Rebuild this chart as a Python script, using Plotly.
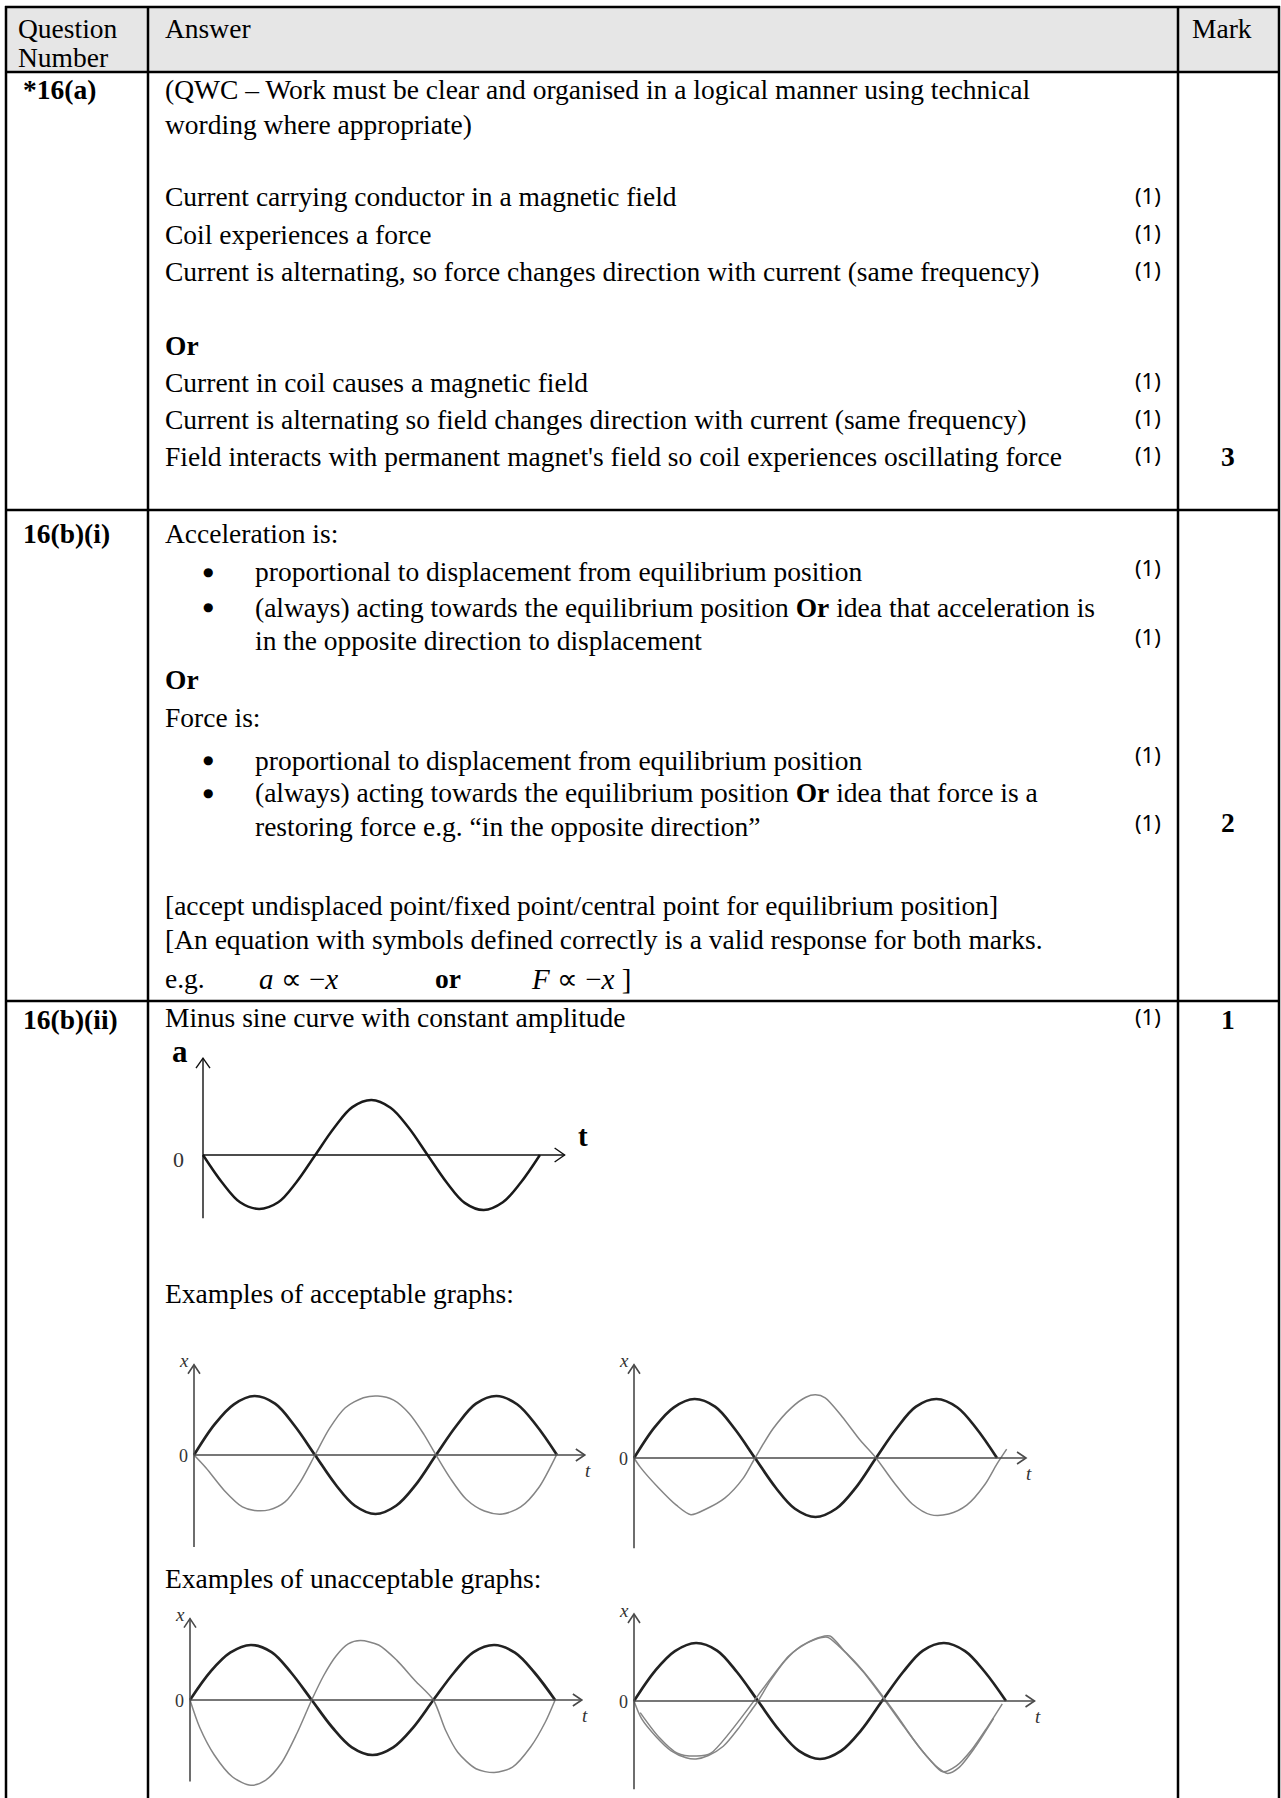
import plotly.graph_objects as go

W, H = 1281, 1798

# ---------------- text content ----------------
head_question = ["Question", "Number"]
head_answer = "Answer"
head_mark = "Mark"
question_ids = ["*16(a)", "16(b)(i)", "16(b)(ii)"]
total_marks = ["3", "2", "1"]

ans_a = [
    "(QWC – Work must be clear and organised in a logical manner using technical",
    "wording where appropriate)",
    "Current carrying conductor in a magnetic field",
    "Coil experiences a force",
    "Current is alternating, so force changes direction with current (same frequency)",
    "<b>Or</b>",
    "Current in coil causes a magnetic field",
    "Current is alternating so field changes direction with current (same frequency)",
    "Field interacts with permanent magnet's field so coil experiences oscillating force",
]
ans_a_marks = ["", "", "(1)", "(1)", "(1)", "", "(1)", "(1)", "(1)"]

ans_bi = [
    "Acceleration is:",
    "proportional to displacement from equilibrium position",
    "(always) acting towards the equilibrium position <b>Or</b> idea that acceleration is",
    "in the opposite direction to displacement",
    "<b>Or</b>",
    "Force is:",
    "proportional to displacement from equilibrium position",
    "(always) acting towards the equilibrium position <b>Or</b> idea that force is a",
    "restoring force e.g. “in the opposite direction”",
    "[accept undisplaced point/fixed point/central point for equilibrium position]",
    "[An equation with symbols defined correctly is a valid response for both marks.",
]
ans_bi_bullet = [False, True, True, False, False, False, True, True, False, False, False]
ans_bi_indent = [0, 1, 1, 1, 0, 0, 1, 1, 1, 0, 0]
ans_bi_marks = ["(1)", "(1)", "(1)", "(1)"]
eq_parts = ["e.g.", "<i>a</i> ∝ −<i>x</i>", "<b>or</b>", "<i>F</i> ∝ −<i>x</i> ]"]

ans_bii = "Minus sine curve with constant amplitude"
ans_bii_mark = "(1)"
examples_ok = "Examples of acceptable graphs:"
examples_bad = "Examples of unacceptable graphs:"

# ---------------- graph data (time in half-periods, value in amplitudes) ----------------
# model answer: acceleration a against time t
a_t = [0, 0.17, 0.33, 0.5, 0.67, 0.83, 1.0, 1.17, 1.33, 1.5, 1.67, 1.83, 2.0,
       2.17, 2.33, 2.5, 2.67, 2.83, 3.0]
a_val = [0, -0.5, -0.86, -0.98, -0.86, -0.5, 0, 0.5, 0.87, 1.0, 0.86, 0.5, 0,
         -0.5, -0.87, -1.0, -0.86, -0.5, 0]

# printed displacement curve x against t (black, same on all four examples)
xb_t = [0, 0.17, 0.33, 0.5, 0.67, 0.83, 1.0, 1.17, 1.33, 1.5, 1.67, 1.83, 2.0,
        2.17, 2.33, 2.5, 2.67, 2.83, 3.0]
xb_val = [0, 0.52, 0.86, 1.0, 0.87, 0.5, 0, -0.5, -0.86, -1.0, -0.86, -0.51, 0,
          0.5, 0.87, 1.0, 0.86, 0.5, 0]

# hand-drawn candidate curves (grey)
ok1_t = [0, 0.1, 0.25, 0.4, 0.5, 0.62, 0.75, 0.88, 1.0, 1.12, 1.25, 1.4, 1.52,
         1.65, 1.78, 1.9, 2.0, 2.12, 2.25, 2.4, 2.55, 2.7, 2.85, 3.0]
ok1_x = [0, -0.22, -0.6, -0.88, -0.94, -0.93, -0.8, -0.45, 0, 0.45, 0.8, 0.97, 1.0,
         0.93, 0.7, 0.35, 0, -0.4, -0.75, -0.95, -1.0, -0.88, -0.55, 0.02]

ok2_t = [0, 0.05, 0.2, 0.35, 0.47, 0.6, 0.75, 0.9, 1.0, 1.15, 1.3, 1.42, 1.5,
         1.58, 1.72, 1.87, 2.0, 2.15, 2.3, 2.45, 2.6, 2.75, 2.9, 3.0, 3.08]
ok2_x = [0, -0.15, -0.5, -0.8, -0.96, -0.86, -0.68, -0.35, 0, 0.5, 0.85, 1.03, 1.07,
         1.02, 0.7, 0.3, 0, -0.42, -0.78, -0.96, -0.95, -0.8, -0.45, -0.1, 0.15]

bad1_t = [0, 0.08, 0.2, 0.35, 0.5, 0.62, 0.75, 0.88, 1.0, 1.1, 1.2, 1.3, 1.4,
          1.55, 1.7, 1.85, 2.0, 2.1, 2.2, 2.35, 2.5, 2.65, 2.8, 2.92, 3.0]
bad1_x = [0, -0.5, -1.0, -1.4, -1.55, -1.46, -1.15, -0.6, 0, 0.45, 0.8, 1.02, 1.08,
          1.0, 0.72, 0.35, 0, -0.55, -0.95, -1.25, -1.32, -1.22, -0.85, -0.4, 0]

bad2_t = [0, 0.06, 0.18, 0.3, 0.42, 0.5, 0.6, 0.72, 0.85, 0.95, 1.0, 1.1, 1.22,
          1.35, 1.47, 1.56, 1.65, 1.78, 1.9, 2.0, 2.12, 2.25, 2.38, 2.49, 2.6,
          2.72, 2.85, 2.97]
bad2_x = [0, -0.3, -0.62, -0.86, -0.98, -1.0, -0.94, -0.78, -0.45, -0.15, 0, 0.35, 0.7,
          0.95, 1.07, 1.1, 0.95, 0.68, 0.38, 0.1, -0.25, -0.65, -1.0, -1.22, -1.12,
          -0.85, -0.45, -0.05]
bad2b_t = [0.05, 0.2, 0.35, 0.5, 0.62, 1.25, 1.38, 1.5, 1.58, 1.7, 1.85, 2.02,
           2.18, 2.32, 2.45, 2.53, 2.62, 2.75, 2.9]
bad2b_x = [-0.2, -0.62, -0.9, -0.95, -0.9, 0.78, 0.98, 1.1, 1.12, 0.85, 0.5, 0.02,
           -0.45, -0.85, -1.15, -1.25, -1.15, -0.8, -0.3]

# ---------------- styles ----------------
SERIF = "Liberation Serif, Times New Roman, serif"
SANS = "Noto Sans, Open Sans, sans-serif"
FS = 27.5
MARK_FS = 22

fig = go.Figure()
ann = []
shapes = []


def px(x):
    return x / W


def py(y):
    return 1 - y / H


def txt(x, y, s, size=FS, family=SERIF, xanchor="left", color="#000000"):
    ann.append(dict(x=px(x), y=py(y), xref="paper", yref="paper", text=s,
                    showarrow=False, xanchor=xanchor, yanchor="middle",
                    font=dict(family=family, size=size, color=color)))


def hline(y, x0, x1, w=2.5):
    shapes.append(dict(type="line", xref="paper", yref="paper", x0=px(x0), x1=px(x1),
                       y0=py(y), y1=py(y), line=dict(color="#000000", width=w)))


def vline(x, y0, y1, w=2.5):
    shapes.append(dict(type="line", xref="paper", yref="paper", x0=px(x), x1=px(x),
                       y0=py(y0), y1=py(y1), line=dict(color="#000000", width=w)))


# ---------------- table frame ----------------
L, C1, C2, R = 6, 148, 1178, 1279
TOP, HEAD_B, ROW_A_B, ROW_BI_B = 7, 72, 510, 1001
shapes.append(dict(type="rect", xref="paper", yref="paper", x0=px(L), x1=px(R),
                   y0=py(HEAD_B), y1=py(TOP), fillcolor="#e6e6e6",
                   line=dict(width=0), layer="below"))
for yy in (TOP, HEAD_B, ROW_A_B, ROW_BI_B):
    hline(yy, L - 1, R + 1)
for xx in (L, C1, C2, R):
    vline(xx, TOP - 1, H)

TX = 163           # answer text left
QX = 21            # question id left
MX = 1163          # right edge of "(1)"
TMX = 1228         # mark column centre

# header
txt(16, 28, head_question[0])
txt(16, 57, head_question[1])
txt(TX, 28, head_answer)
txt(1190, 28, head_mark)

# row (a)
txt(QX, 90, "<b>" + question_ids[0] + "</b>")
row_a_y = [90, 124, 197, 234, 271, 345, 382, 419, 456]
for s, m, yy in zip(ans_a, ans_a_marks, row_a_y):
    txt(TX, yy, s)
    if m:
        txt(MX, yy - 2, m, size=MARK_FS, family=SANS, xanchor="right")
txt(TMX, 456, "<b>" + total_marks[0] + "</b>", xanchor="center")

# row (b)(i)
txt(QX, 533, "<b>" + question_ids[1] + "</b>")
row_bi_y = [533, 572, 607, 640, 680, 717, 760, 793, 826, 905, 940]
for s, b, ind, yy in zip(ans_bi, ans_bi_bullet, ans_bi_indent, row_bi_y):
    txt(TX if ind == 0 else 253, yy, s)
    if b:
        txt(208, yy, "●", size=12, family="DejaVu Sans", xanchor="center")
mark_bi_y = [567, 636, 754, 822]
for m, yy in zip(ans_bi_marks, mark_bi_y):
    txt(MX, yy, m, size=MARK_FS, family=SANS, xanchor="right")
txt(TMX, 823, "<b>" + total_marks[1] + "</b>", xanchor="center")
eq_x = [TX, 257, 433, 529]
eq_sz = [FS, 29, FS, 29]
for s, xx, sz in zip(eq_parts, eq_x, eq_sz):
    txt(xx, 979, s, size=sz)

# row (b)(ii)
txt(QX, 1019, "<b>" + question_ids[2] + "</b>")
txt(TX, 1018, ans_bii)
txt(MX, 1016, ans_bii_mark, size=MARK_FS, family=SANS, xanchor="right")
txt(TMX, 1019, "<b>" + total_marks[2] + "</b>", xanchor="center")
txt(TX, 1293, examples_ok)
txt(TX, 1578, examples_bad)


# ---------------- graphs ----------------
def setup_graph(n, ox, oy, sx, sy, tip, ytop, ybot, axis_col, axis_w, head):
    left = max(ox - 40, 0)
    right = min(ox + (tip + 0.25) * sx, W)
    top = max(oy - (ytop + 0.3) * sy, 0)
    bottom = min(oy + (ybot + 0.3) * sy, H)
    fig.layout["xaxis%d" % n] = dict(domain=[px(left), px(right)],
                                     range=[(left - ox) / sx, (right - ox) / sx],
                                     visible=False, anchor="y%d" % n, fixedrange=True)
    fig.layout["yaxis%d" % n] = dict(domain=[py(bottom), py(top)],
                                     range=[(oy - bottom) / sy, (oy - top) / sy],
                                     visible=False, anchor="x%d" % n, fixedrange=True)
    xr, yr = "x%d" % n, "y%d" % n
    ln = dict(color=axis_col, width=axis_w)
    shapes.append(dict(type="line", xref=xr, yref=yr, x0=0, x1=tip, y0=0, y1=0, line=ln))
    shapes.append(dict(type="line", xref=xr, yref=yr, x0=0, x1=0, y0=-ybot, y1=ytop, line=ln))
    hl, hw = head
    shapes.append(dict(type="path", xref=xr, yref=yr, line=ln,
                       path="M %.4f,%.4f L %.4f,0 L %.4f,%.4f" % (
                           tip - hl / sx, hw / sy, tip, tip - hl / sx, -hw / sy)))
    shapes.append(dict(type="path", xref=xr, yref=yr, line=ln,
                       path="M %.4f,%.4f L 0,%.4f L %.4f,%.4f" % (
                           -hw / sx, ytop - hl / sy, ytop, hw / sx, ytop - hl / sy)))
    return xr, yr


def curve(xr, yr, t, v, color, width, smooth=1.0):
    fig.add_trace(go.Scatter(x=t, y=v, xaxis=xr, yaxis=yr, mode="lines",
                             line=dict(color=color, width=width, shape="spline",
                                       smoothing=smooth),
                             hoverinfo="skip", showlegend=False, cliponaxis=False))


BLACK = "#222222"
GREY = "#858585"

# model answer graph (a against t)
ga = dict(ox=203, oy=1155, sx=112.3, sy=55)
xr, yr = setup_graph(2, ga["ox"], ga["oy"], ga["sx"], ga["sy"], 3.22, 1.76, 1.15,
                     "#111111", 1.4, (10, 7))
curve(xr, yr, a_t, a_val, "#1a1a1a", 2.5)
txt(170, 1051, "<b>a</b>", size=31)
txt(179, 1159, "0", size=22, color="#333333", xanchor="center")
txt(576, 1136, "<b>t</b>", size=29)

# four example x-t graphs
examples = [
    dict(n=3, ox=194, oy=1455, sx=121.0, sy=59, tip=3.23, top=1.53, bot=1.56,
         grey=[(ok1_t, ok1_x)]),
    dict(n=4, ox=634, oy=1458, sx=121.0, sy=59, tip=3.24, top=1.58, bot=1.53,
         grey=[(ok2_t, ok2_x)]),
    dict(n=5, ox=190, oy=1700, sx=121.7, sy=55, tip=3.22, top=1.48, bot=1.48,
         grey=[(bad1_t, bad1_x)]),
    dict(n=6, ox=634, oy=1701, sx=124.0, sy=58, tip=3.23, top=1.5, bot=1.52,
         grey=[(bad2_t, bad2_x), (bad2b_t, bad2b_x)]),
]
for g in examples:
    xr, yr = setup_graph(g["n"], g["ox"], g["oy"], g["sx"], g["sy"], g["tip"],
                         g["top"], g["bot"], "#4a4a4a", 1.6, (9, 6))
    curve(xr, yr, xb_t, xb_val, BLACK, 2.7)
    for gt, gx in g["grey"]:
        curve(xr, yr, gt, gx, GREY, 1.5, 0.8)
    top_px = g["oy"] - g["top"] * g["sy"]
    tip_px = g["ox"] + g["tip"] * g["sx"]
    txt(g["ox"] - 10, top_px - 4, "<i>x</i>", size=19, color="#333333", xanchor="center")
    txt(g["ox"] - 4, g["oy"] + 1, "0", size=18, color="#333333", xanchor="right")
    txt(tip_px + 3, g["oy"] + 15, "<i>t</i>", size=19, color="#333333", xanchor="center")

fig.update_layout(
    width=W, height=H,
    margin=dict(l=0, r=0, t=0, b=0, pad=0),
    paper_bgcolor="#ffffff", plot_bgcolor="rgba(0,0,0,0)",
    showlegend=False,
    annotations=ann, shapes=shapes,
)

fig.write_html("out.html", config={"displayModeBar": False, "staticPlot": True},
               post_script="document.body.style.margin='0';document.body.style.overflow='hidden';")
